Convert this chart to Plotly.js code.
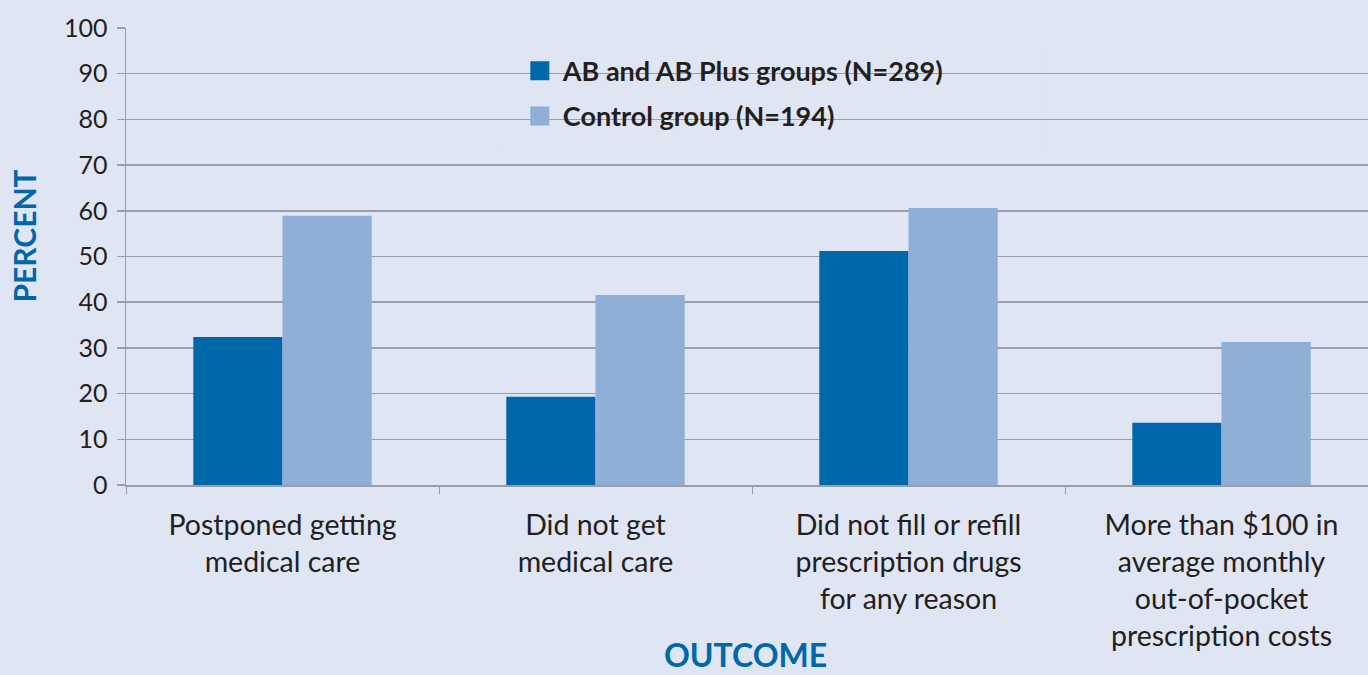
<!DOCTYPE html>
<html>
<head>
<meta charset="utf-8">
<script src="https://cdn.plot.ly/plotly-3.0.1.min.js"></script>
<style>
  html, body { margin: 0; padding: 0; background: #dfe5f2; }
  #chart { width: 1368px; height: 675px; }
</style>
</head>
<body>
<div id="chart"></div>
<script>
// ---- Data ----
const categories = [
  "Postponed getting<br>medical care",
  "Did not get<br>medical care",
  "Did not fill or refill<br>prescription drugs<br>for any reason",
  "More than $100 in<br>average monthly<br>out-of-pocket<br>prescription costs"
];
const seriesNames = ["AB and AB Plus groups (N=289)", "Control group (N=194)"];
const abValues = [32.4, 19.3, 51.2, 13.6];
const controlValues = [58.9, 41.6, 60.6, 31.3];
const yTickValues = [0, 10, 20, 30, 40, 50, 60, 70, 80, 90, 100];
const yAxisTitle = "PERCENT";
const xAxisTitle = "OUTCOME";

// ---- Styles ----
const BG = "#dfe5f2";
const DARK = "#0067ab";
const LIGHT = "#8fafd6";
const GRID = "#9a9ea6";
const TEXT = "#231f20";
const FONT = "Lato, 'Open Sans', sans-serif";

const traces = [
  {
    type: "bar", name: seriesNames[0], x: categories, y: abValues,
    marker: { color: DARK, line: { width: 0 } },
    legendgroup: "g1", hoverinfo: "skip"
  },
  {
    type: "bar", name: seriesNames[1], x: categories, y: controlValues,
    marker: { color: LIGHT, line: { width: 0 } },
    legendgroup: "g2", hoverinfo: "skip"
  }
];

const layout = {
  width: 1368, height: 675,
  paper_bgcolor: BG, plot_bgcolor: BG,
  margin: { l: 126, r: 0, t: 28, b: 190 },
  barmode: "group",
  bargap: 0.43, bargroupgap: 0,
  font: { family: FONT, color: TEXT },
  showlegend: true,
  legend: {
    x: 0.3195, y: 0.959, xanchor: "left", yanchor: "top",
    bgcolor: "rgba(0,0,0,0)",
    font: { family: FONT, size: 27, color: TEXT, weight: "bold" },
    tracegroupgap: 7,
    itemwidth: 30,
    traceorder: "grouped"
  },
  xaxis: {
    type: "category",
    range: [-0.5, 3.468],
    tickson: "boundaries",
    ticks: "outside", ticklen: 7, tickwidth: 1, tickcolor: GRID,
    showline: true, linecolor: GRID, linewidth: 1.5,
    showgrid: false, zeroline: false,
    tickfont: { family: FONT, size: 28.5, color: TEXT },
    ticklabelstandoff: 14,
    fixedrange: true
  },
  yaxis: {
    range: [0, 100],
    tickvals: yTickValues,
    ticktext: yTickValues.map(String),
    ticks: "outside", ticklen: 8, tickwidth: 1.5, tickcolor: GRID,
    showline: true, linecolor: GRID, linewidth: 1.5,
    showgrid: true, gridcolor: GRID, gridwidth: 1.5,
    zeroline: false,
    tickfont: { family: FONT, size: 25, color: TEXT },
    ticklabelstandoff: 4,
    fixedrange: true
  },
  annotations: [
    {
      text: yAxisTitle, textangle: -90,
      xref: "paper", yref: "y", x: -0.0825, y: 54.5,
      xanchor: "center", yanchor: "middle", showarrow: false,
      font: { family: FONT, size: 30, color: DARK, weight: "bold" }
    },
    {
      text: xAxisTitle,
      xref: "paper", yref: "paper", x: 0.4985, y: -0.371,
      xanchor: "center", yanchor: "middle", showarrow: false,
      font: { family: FONT, size: 32, color: DARK, weight: "bold" }
    }
  ],
  shapes: [
    {
      type: "rect", layer: "between",
      xref: "paper", yref: "y",
      x0: 0.3027, x1: 0.736, y0: 74, y1: 95,
      fillcolor: BG, line: { width: 0 }
    }
  ]
};

Plotly.newPlot("chart", traces, layout, { staticPlot: true, displayModeBar: false }).then(function () {
  document.querySelectorAll(".legend .legendpoints path").forEach(function (p) {
    p.removeAttribute("transform");
    p.setAttribute("d", "M26.5,9.5H7.5V-9.5H26.5Z");
  });
});
</script>
</body>
</html>
